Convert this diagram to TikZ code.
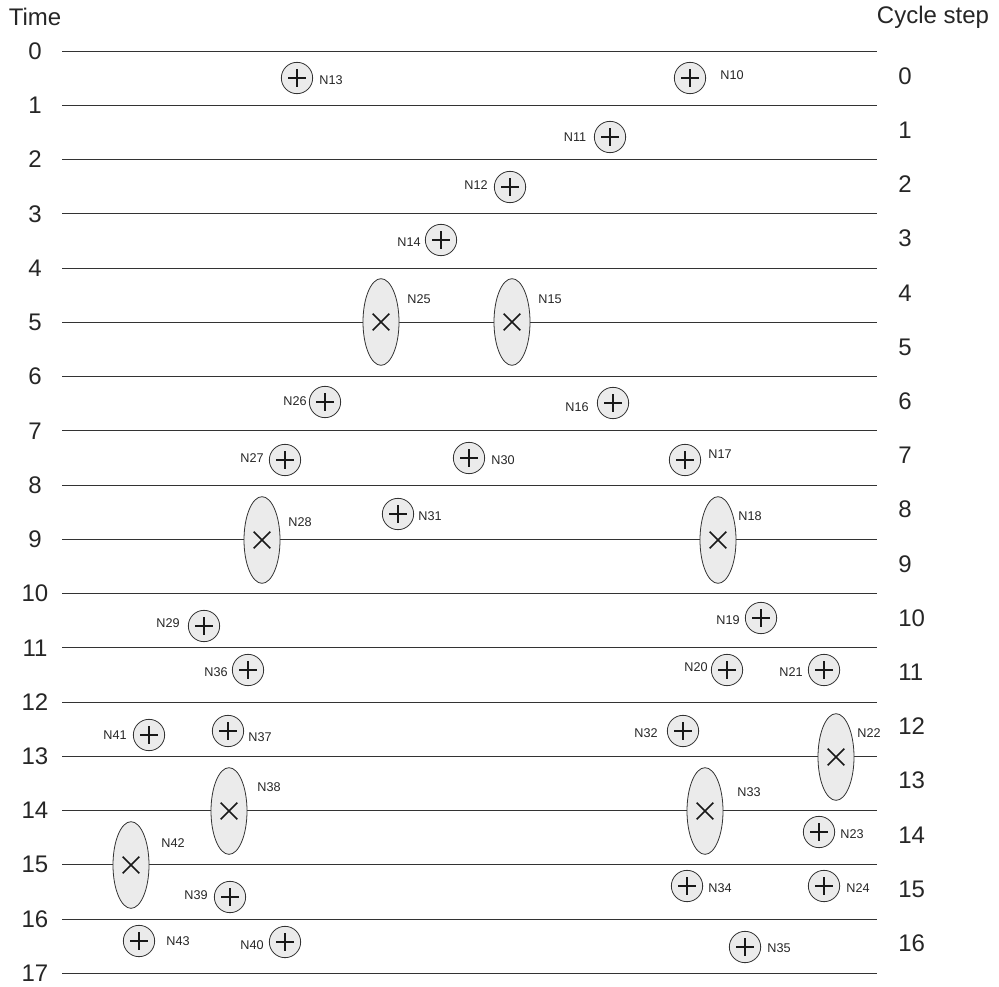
\documentclass[tikz,border=0pt]{standalone}
\usepackage{fontspec}
\setmainfont{Liberation Sans}
\usetikzlibrary{shapes.geometric}
\tikzset{
  gridline/.style={draw=black!80, line width=0.7pt},
  biglbl/.style={font=\fontsize{18}{20}\selectfont, text=black!85, inner sep=0pt},
  lbl/.style={font=\fontsize{9.5}{11}\selectfont, text=black!85, inner sep=0pt},
  addnode/.style={circle, draw=black!80, fill=black!8, line width=0.6pt,
    minimum size=23.5pt, inner sep=0pt,
    path picture={
      \draw[line width=1.8pt, black!90]
        ([xshift=-6.5pt]path picture bounding box.center) -- ([xshift=6.5pt]path picture bounding box.center)
        ([yshift=-6.5pt]path picture bounding box.center) -- ([yshift=6.5pt]path picture bounding box.center);
    }},
  mulnode/.style={ellipse, draw=black!80, fill=black!8, line width=0.6pt,
    minimum width=27pt, minimum height=65pt, inner sep=0pt,
    path picture={
      \draw[line width=1.3pt, black!90]
        ([xshift=-6.2pt,yshift=-6.2pt]path picture bounding box.center) -- ([xshift=6.2pt,yshift=6.2pt]path picture bounding box.center)
        ([xshift=-6.2pt,yshift=6.2pt]path picture bounding box.center) -- ([xshift=6.2pt,yshift=-6.2pt]path picture bounding box.center);
    }},
}
\begin{document}
\begin{tikzpicture}[x=0.75pt, y=-0.75pt]
\useasboundingbox (0,0) rectangle (999,987);
\node[biglbl] (time) at (35,17) {Time};
\node[biglbl] (cycle) at (933,17) {Cycle step};
\foreach \k in {0,...,17} {
  \draw[gridline] (62,{51+54.25*\k}) -- (877,{51+54.25*\k});
  \node[biglbl] (t\k) at (35,{51+54.25*\k}) {\k};
}
\foreach \k in {0,...,16} {
  \node[biglbl, anchor=west] (c\k) at (898,{76+54.2*\k}) {\k};
}
% adders
\node[addnode] (N13) at (297,78) {};  \node[lbl] (lN13) at (331,80) {N13};
\node[addnode] (N10) at (690,78) {};  \node[lbl] (lN10) at (732,75) {N10};
\node[addnode] (N11) at (610,137) {}; \node[lbl] (lN11) at (575,137) {N11};
\node[addnode] (N12) at (510,187) {}; \node[lbl] (lN12) at (476,185) {N12};
\node[addnode] (N14) at (441,240) {}; \node[lbl] (lN14) at (409,242) {N14};
\node[addnode] (N26) at (325,402) {}; \node[lbl] (lN26) at (295,401) {N26};
\node[addnode] (N16) at (613,403) {}; \node[lbl] (lN16) at (577,407) {N16};
\node[addnode] (N27) at (285,460) {}; \node[lbl] (lN27) at (252,458) {N27};
\node[addnode] (N30) at (469,458) {}; \node[lbl] (lN30) at (503,460) {N30};
\node[addnode] (N17) at (685,460) {}; \node[lbl] (lN17) at (720,454) {N17};
\node[addnode] (N31) at (398,514) {}; \node[lbl] (lN31) at (430,516) {N31};
\node[addnode] (N29) at (204,626) {}; \node[lbl] (lN29) at (168,623) {N29};
\node[addnode] (N19) at (761,618) {}; \node[lbl] (lN19) at (728,620) {N19};
\node[addnode] (N36) at (248,670) {}; \node[lbl] (lN36) at (216,672) {N36};
\node[addnode] (N20) at (727,670) {}; \node[lbl] (lN20) at (696,667) {N20};
\node[addnode] (N21) at (824,670) {}; \node[lbl] (lN21) at (791,672) {N21};
\node[addnode] (N41) at (149,735) {}; \node[lbl] (lN41) at (115,735) {N41};
\node[addnode] (N37) at (228,731) {}; \node[lbl] (lN37) at (260,737) {N37};
\node[addnode] (N32) at (683,731) {}; \node[lbl] (lN32) at (646,733) {N32};
\node[addnode] (N23) at (819,832) {}; \node[lbl] (lN23) at (852,834) {N23};
\node[addnode] (N39) at (230,897) {}; \node[lbl] (lN39) at (196,895) {N39};
\node[addnode] (N34) at (687,886) {}; \node[lbl] (lN34) at (720,888) {N34};
\node[addnode] (N24) at (824,886) {}; \node[lbl] (lN24) at (858,888) {N24};
\node[addnode] (N43) at (139,941) {}; \node[lbl] (lN43) at (178,941) {N43};
\node[addnode] (N40) at (285,942) {}; \node[lbl] (lN40) at (252,945) {N40};
\node[addnode] (N35) at (745,947) {}; \node[lbl] (lN35) at (779,948) {N35};
% multipliers
\node[mulnode] (N25) at (381,322) {}; \node[lbl] (lN25) at (419,299) {N25};
\node[mulnode] (N15) at (512,322) {}; \node[lbl] (lN15) at (550,299) {N15};
\node[mulnode] (N28) at (262,540) {}; \node[lbl] (lN28) at (300,522) {N28};
\node[mulnode] (N18) at (718,540) {}; \node[lbl] (lN18) at (750,516) {N18};
\node[mulnode] (N22) at (836,757) {}; \node[lbl] (lN22) at (869,733) {N22};
\node[mulnode] (N38) at (229,811) {}; \node[lbl] (lN38) at (269,787) {N38};
\node[mulnode] (N33) at (705,811) {}; \node[lbl] (lN33) at (749,792) {N33};
\node[mulnode] (N42) at (131,865) {}; \node[lbl] (lN42) at (173,843) {N42};
\end{tikzpicture}
\end{document}
